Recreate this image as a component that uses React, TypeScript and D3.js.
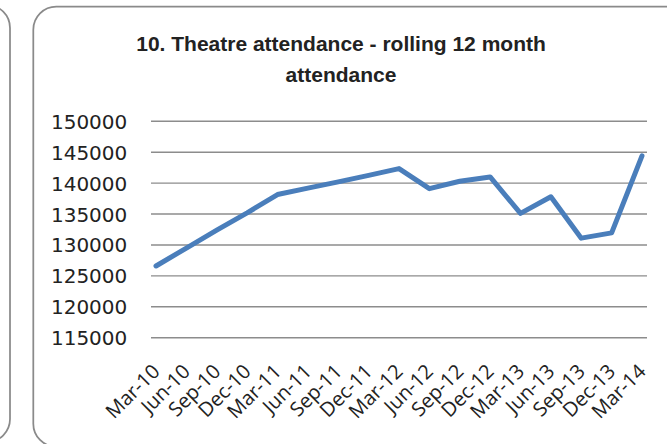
import React, { useEffect, useRef } from 'react';
import * as d3 from 'd3';

const quarters = [
  'Mar-10', 'Jun-10', 'Sep-10', 'Dec-10',
  'Mar-11', 'Jun-11', 'Sep-11', 'Dec-11',
  'Mar-12', 'Jun-12', 'Sep-12', 'Dec-12',
  'Mar-13', 'Jun-13', 'Sep-13', 'Dec-13',
  'Mar-14',
];

const attendance = [
  126600, 129500, 132400, 135200,
  138150, 139200, 140200, 141250,
  142350, 139100, 140300, 141000,
  135100, 137800, 131100, 131950,
  144400,
];

const yTicks = [115000, 120000, 125000, 130000, 135000, 140000, 145000, 150000];

const titleLines = ['10. Theatre attendance - rolling 12 month', 'attendance'];

const App = () => {
  const svgRef = useRef(null);

  useEffect(() => {
    const svg = d3.select(svgRef.current);
    const width = 667;
    const height = 444;
    const plot = { left: 151, right: 647, top: 121.3, bottom: 337.7 };

    svg.selectAll('*').remove();

    svg.append('rect')
      .attr('width', width)
      .attr('height', height)
      .attr('fill', '#fff');

    // neighbouring panel, mostly cut off on the left
    svg.append('rect')
      .attr('x', -300)
      .attr('y', 5)
      .attr('width', 310)
      .attr('height', 437)
      .attr('rx', 23)
      .attr('fill', 'none')
      .attr('stroke', '#8a8a8a')
      .attr('stroke-width', 1.75);

    // chart panel
    svg.append('rect')
      .attr('x', 33.3)
      .attr('y', 6.7)
      .attr('width', 660)
      .attr('height', 440)
      .attr('rx', 23)
      .attr('fill', '#fff')
      .attr('stroke', '#8a8a8a')
      .attr('stroke-width', 1.75);

    const x = d3.scalePoint()
      .domain(quarters)
      .range([156, 642]);

    const y = d3.scaleLinear()
      .domain([115000, 150000])
      .range([plot.bottom, plot.top]);

    // gridlines
    svg.append('g')
      .selectAll('line')
      .data(yTicks)
      .join('line')
        .attr('x1', plot.left)
        .attr('x2', plot.right)
        .attr('y1', d => y(d))
        .attr('y2', d => y(d))
        .attr('stroke', '#8c8c8c')
        .attr('stroke-width', 1.4);

    // y labels
    svg.append('g')
      .selectAll('text')
      .data(yTicks)
      .join('text')
        .attr('x', 127.3)
        .attr('y', d => y(d) + 7.5)
        .attr('text-anchor', 'end')
        .attr('font-family', '"DejaVu Sans", sans-serif')
        .attr('font-size', 20)
        .attr('fill', '#222')
        .text(d => d);

    // x labels, rotated
    svg.append('g')
      .selectAll('text')
      .data(quarters)
      .join('text')
        .attr('text-anchor', 'end')
        .attr('transform', d => `translate(${x(d) + 5},${plot.bottom + 35}) rotate(-45)`)
        .attr('font-family', '"Open Sans", sans-serif')
        .attr('font-size', 20)
        .attr('fill', '#222')
        .text(d => d);

    const line = d3.line()
      .x((d, i) => x(quarters[i]))
      .y(d => y(d));

    svg.append('path')
      .datum(attendance)
      .attr('d', line)
      .attr('fill', 'none')
      .attr('stroke', '#4a7ebb')
      .attr('stroke-width', 5)
      .attr('stroke-linejoin', 'round')
      .attr('stroke-linecap', 'round');

    svg.append('g')
      .selectAll('text')
      .data(titleLines)
      .join('text')
        .attr('x', 341)
        .attr('y', (d, i) => 50.7 + i * 31)
        .attr('text-anchor', 'middle')
        .attr('font-family', '"Liberation Sans", Arial, sans-serif')
        .attr('font-weight', 'bold')
        .attr('font-size', 21)
        .attr('fill', '#222')
        .text(d => d);
  }, []);

  return (
    <svg
      ref={svgRef}
      width="667"
      height="444"
      style={{ position: 'absolute', left: 0, top: 0 }}
    ></svg>
  );
};

export default App;
